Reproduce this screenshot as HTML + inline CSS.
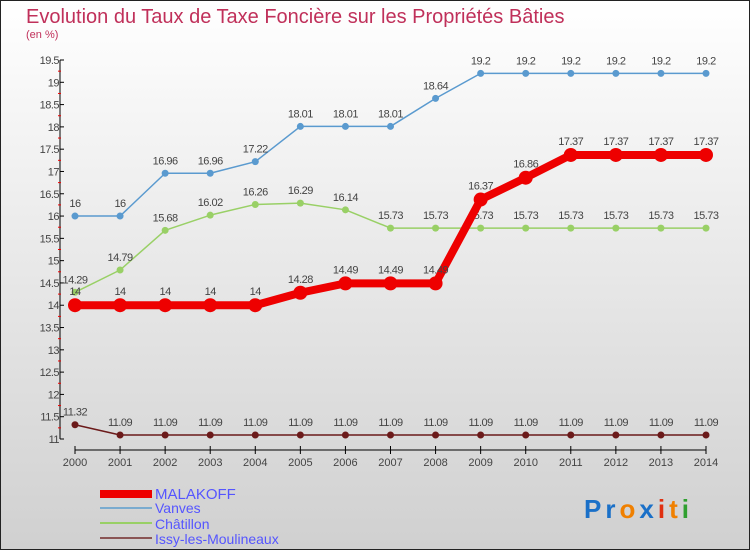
<!DOCTYPE html>
<html><head><meta charset="utf-8"><style>
html,body{margin:0;padding:0}
body{width:750px;height:550px;overflow:hidden;font-family:"Liberation Sans",sans-serif}
</style></head><body>
<svg width="750" height="550" xmlns="http://www.w3.org/2000/svg">
<defs><linearGradient id="bg" x1="0" y1="0" x2="0" y2="1"><stop offset="0" stop-color="#ffffff"/><stop offset="1" stop-color="#d0d0d0"/></linearGradient></defs>
<rect x="0.5" y="0.5" width="749" height="549" fill="url(#bg)" stroke="#222"/>
<text x="26" y="23" font-size="20" fill="#c0305a">Evolution du Taux de Taxe Foncière sur les Propriétés Bâties</text>
<text x="26" y="38" font-size="11" fill="#c0305a">(en %)</text>
<g id="axes"></g>
<g id="series"></g>
<g id="legend">
<rect x="100" y="490" width="52" height="8" fill="#ee0000"/>
<text x="155" y="499" font-size="15" fill="#5555ff">MALAKOFF</text>
<rect x="100" y="507" width="52" height="2" fill="#7aabcf"/>
<text x="155" y="513" font-size="14" fill="#5555ff">Vanves</text>
<rect x="100" y="522" width="52" height="2" fill="#99d066"/>
<text x="155" y="529" font-size="14" fill="#5555ff">Châtillon</text>
<rect x="100" y="537" width="52" height="2" fill="#8a5555"/>
<text x="155" y="544" font-size="14" fill="#5555ff">Issy-les-Moulineaux</text>
</g>
<text x="584" y="518" font-size="26" font-weight="bold" letter-spacing="4"><tspan fill="#1a70c8">Pr</tspan><tspan fill="#f08000">o</tspan><tspan fill="#1a70c8">x</tspan><tspan fill="#e03010">i</tspan><tspan fill="#f08000">t</tspan><tspan fill="#30a030">i</tspan></text>
</svg>
<script>
const years=[2000,2001,2002,2003,2004,2005,2006,2007,2008,2009,2010,2011,2012,2013,2014];
const malakoff=[14,14,14,14,14,14.28,14.49,14.49,14.49,16.37,16.86,17.37,17.37,17.37,17.37];
const vanves=[16,16,16.96,16.96,17.22,18.01,18.01,18.01,18.64,19.2,19.2,19.2,19.2,19.2,19.2];
const chatillon=[14.29,14.79,15.68,16.02,16.26,16.29,16.14,15.73,15.73,15.73,15.73,15.73,15.73,15.73,15.73];
const issy=[11.32,11.09,11.09,11.09,11.09,11.09,11.09,11.09,11.09,11.09,11.09,11.09,11.09,11.09,11.09];
const yTicks=[11,11.5,12,12.5,13,13.5,14,14.5,15,15.5,16,16.5,17,17.5,18,18.5,19,19.5];
const NS="http://www.w3.org/2000/svg";
const X=i=>75+i*(706-75)/(years.length-1);
const Y=v=>439-(v-11)*(379/8.5);
function mk(tag,attrs,parent){const e=document.createElementNS(NS,tag);for(const k in attrs)e.setAttribute(k,attrs[k]);parent.appendChild(e);return e;}
const ax=document.getElementById('axes');
let yl=mk('line',{x1:60,y1:Y(19.5),x2:60,y2:Y(11),stroke:'#000'},ax);


let xl=mk('line',{x1:X(0),y1:450,x2:X(years.length-1),y2:450,stroke:'#000'},ax);


yTicks.forEach(t=>{
  mk('line',{x1:60,y1:Y(t),x2:64,y2:Y(t),stroke:'#000'},ax);
  if(t<19.5) mk('line',{x1:58,y1:Y(t+0.25),x2:61,y2:Y(t+0.25),stroke:'#e00'},ax);
  const tx=mk('text',{x:59,y:Y(t)+4,'font-size':11,'text-anchor':'end',fill:'#444','letter-spacing':'-0.5'},ax);
  tx.textContent=String(t);
  
  
});
years.forEach((yr,i)=>{
  mk('line',{x1:X(i),y1:446,x2:X(i),y2:454,stroke:'#000'},ax);
  const tx=mk('text',{x:X(i),y:466,'font-size':11,'text-anchor':'middle',fill:'#444'},ax);
  tx.textContent=String(yr);
  
  
});
const sg=document.getElementById('series');
function series(vals,color,w,r,name,labelDy){
  const g=mk('g',{},sg);
  
  
  const pl=mk('polyline',{points:vals.map((v,i)=>X(i)+','+Y(v)).join(' '),fill:'none',stroke:color,'stroke-width':w,'stroke-linejoin':'round'},g);
  
  
  vals.forEach((v,i)=>{
    const c=mk('circle',{cx:X(i),cy:Y(v),r:r,fill:color},g);
    
    
    const t=mk('text',{x:X(i),y:Y(v)+labelDy,'font-size':11,'text-anchor':'middle',fill:'#444','letter-spacing':'-0.5'},g);
    t.textContent=String(v);
    
    
  });
}
series(issy,'#6b1a1a',1.5,3.5,'issy',-9);
series(chatillon,'#99d066',1.5,3.5,'chatillon',-9);
series(vanves,'#5a9acf',1.5,3.5,'vanves',-9);
series(malakoff,'#ee0000',8,7,'malakoff',-10);
</script>
</body></html>
